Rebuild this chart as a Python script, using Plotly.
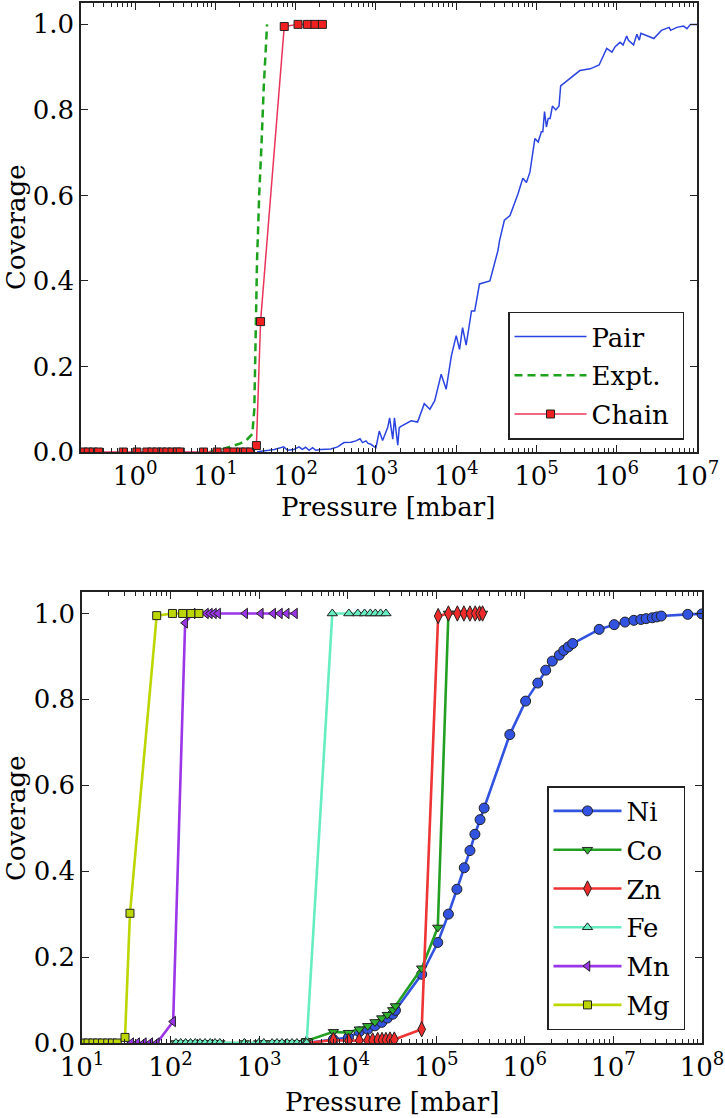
import plotly.graph_objects as go

# ---------------- Top panel data ----------------
pair_p = [33, 37, 46, 54, 71, 79, 95, 110, 121, 133, 147, 162, 178, 205, 274, 333, 400, 490,
          562, 634, 681, 750, 798, 866, 955, 1000, 1100, 1210, 1400, 1480, 1620, 1700, 1870,
          1950, 2050, 2740, 3300, 4000, 4700, 5400, 6500, 7500, 8700, 10000, 11000, 12000,
          13300, 15500, 17000, 19500, 26300, 33100, 34700, 39800, 46800, 58900, 67600, 75000,
          83000, 95500, 105000, 115000, 120000, 126000, 133000, 140000, 148000, 158000, 174000,
          191000, 200000, 251000, 347000, 467000, 603000, 750000, 871000, 955000, 1.1e6, 1.2e6,
          1.33e6, 1.4e6, 1.62e6, 1.78e6, 1.91e6, 2.0e6, 2.9e6, 3.6e6, 4.5e6, 4.7e6, 5.6e6,
          6.8e6, 7.5e6, 8.3e6, 1.0e7]
pair_cov = [0.0, 0.002, 0.004, 0.006, 0.012, 0.004, 0.006, 0.012, 0.006, 0.011, 0.004, 0.010,
            0.004, 0.006, 0.007, 0.012, 0.022, 0.023, 0.026, 0.031, 0.022, 0.026, 0.020, 0.018,
            0.012, 0.010, 0.049, 0.027, 0.057, 0.080, 0.030, 0.080, 0.016, 0.057, 0.060, 0.073,
            0.070, 0.113, 0.100, 0.120, 0.182, 0.147, 0.225, 0.272, 0.240, 0.291, 0.250, 0.330,
            0.330, 0.393, 0.400, 0.471, 0.495, 0.542, 0.553, 0.604, 0.640, 0.630, 0.655, 0.733,
            0.725, 0.749, 0.749, 0.796, 0.760, 0.780, 0.780, 0.809, 0.800, 0.809, 0.856, 0.870,
            0.892, 0.896, 0.905, 0.944, 0.935, 0.948, 0.958, 0.952, 0.973, 0.963, 0.952, 0.977,
            0.963, 0.979, 0.967, 0.986, 0.993, 0.986, 0.993, 0.996, 0.990, 1.0, 1.0]

expt_p = [8.5, 9.6, 12, 14, 17, 20.5, 25, 28.8, 30.5, 31.6, 33, 34, 35, 37.5, 40, 44]
expt_cov = [0.0, 0.003, 0.006, 0.01, 0.015, 0.02, 0.03, 0.042, 0.1, 0.3, 0.45, 0.52, 0.596,
            0.72, 0.854, 1.0]

chain_p = [0.226, 0.26, 0.30, 0.35, 0.71, 1.05, 1.4, 1.62, 1.87, 2.15, 2.49, 2.88, 3.33, 3.65,
           7.1, 10.5, 14, 17, 20.5, 23.7, 27.4, 32.4, 36.5, 72, 107, 140, 174, 215]
chain_cov = [0.0] * 21 + [0.015, 0.305, 0.995, 1.0, 1.0, 1.0, 1.0]

# ---------------- Bottom panel data ----------------
ni_p = [3440, 6890, 10200, 13500, 16800, 20300, 24200, 28000, 32200, 34600, 68400, 104000,
        137000, 171000, 207000, 240000, 273000, 312000, 347000, 676000, 1.02e6, 1.40e6, 1.72e6,
        2.04e6, 2.45e6, 2.75e6, 3.09e6, 3.47e6, 6.9e6, 1.02e7, 1.35e7, 1.70e7, 2.04e7, 2.34e7,
        2.75e7, 3.09e7, 3.47e7, 6.9e7, 1.0e8]
ni_cov = [0.0, 0.008, 0.013, 0.026, 0.032, 0.040, 0.048, 0.058, 0.067, 0.076, 0.160, 0.234,
          0.300, 0.358, 0.408, 0.448, 0.486, 0.520, 0.547, 0.718, 0.796, 0.838, 0.868, 0.889,
          0.903, 0.914, 0.922, 0.930, 0.963, 0.974, 0.980, 0.984, 0.986, 0.988, 0.990, 0.992,
          0.994, 0.998, 0.999]

zero_p = [115, 130, 148, 168, 190, 215, 245, 280, 318, 360, 680, 990, 1130, 1400, 1590, 1810,
          2070, 2350, 2670, 3050, 3330]

co_p = zero_p + [3440, 6890, 10200, 13500, 16800, 20300, 24200, 28000, 32200, 34600, 68400,
                 104000, 137000, 173000, 205000, 240000, 275000, 308000, 333000]
co_cov = [0.0] * 21 + [0.005, 0.026, 0.024, 0.032, 0.040, 0.049, 0.058, 0.066, 0.077, 0.086,
                       0.174, 0.269, 1.0, 1.0, 1.0, 1.0, 1.0, 1.0, 1.0]

zn_p = [3440, 6890, 10200, 13500, 16800, 19100, 21800, 24400, 27000, 30000, 33600, 68400,
        105000, 137000, 173000, 205000, 240000, 275000, 308000, 333000]
zn_cov = [0.0, 0.007, 0.005, 0.006, 0.006, 0.006, 0.007, 0.007, 0.007, 0.008, 0.008, 0.032,
          0.994, 1.0, 1.0, 1.0, 1.0, 1.0, 1.0, 1.0]

fe_p = zero_p + [3440, 6700, 10300, 13000, 15500, 18000, 20500, 23500, 27000]
fe_cov = [0.0] * 22 + [1.0] * 8

mn_p = [36, 42, 50, 59, 70, 107, 146, 178, 251, 278, 309, 344, 696, 1045, 1440, 1718, 2050, 2540]
mn_cov = [0.0, 0.0, 0.0, 0.0, 0.0, 0.05, 0.978, 1.0, 1.0, 1.0, 1.0, 1.0, 1.0, 1.0, 1.0, 1.0,
          1.0, 1.0]

mg_p = [10.3, 11.7, 13.3, 15, 17, 19.5, 22, 25, 30.6, 34.8, 69.7, 105, 137, 170, 209]
mg_cov = [0.0, 0.0, 0.0, 0.0, 0.0, 0.0, 0.0, 0.0, 0.013, 0.302, 0.995, 1.0, 1.0, 1.0, 1.0]

top_tick_exp = [0, 1, 2, 3, 4, 5, 6, 7]
bot_tick_exp = [1, 2, 3, 4, 5, 6, 7, 8]
y_ticks = [0.0, 0.2, 0.4, 0.6, 0.8, 1.0]

for a, b in [(pair_p, pair_cov), (expt_p, expt_cov), (chain_p, chain_cov), (ni_p, ni_cov),
             (co_p, co_cov), (zn_p, zn_cov), (fe_p, fe_cov), (mn_p, mn_cov), (mg_p, mg_cov)]:
    assert len(a) == len(b), (len(a), len(b))

FONT = "DejaVu Serif, Liberation Serif, Noto Serif, serif"
FS = 26
W, H = 725, 1118
PAD = "\u00a0"

fig = go.Figure()

# top traces
fig.add_trace(go.Scatter(x=pair_p, y=pair_cov, mode="lines", name="Pair" + PAD,
                         line=dict(color="#2b44e0", width=1.5),
                         xaxis="x", yaxis="y", legend="legend", legendgroup="a"))
fig.add_trace(go.Scatter(x=expt_p, y=expt_cov, mode="lines", name="Expt." + PAD,
                         line=dict(color="#1ca21c", width=2.5, dash="8px,5px"),
                         xaxis="x", yaxis="y", legend="legend", legendgroup="b"))
fig.add_trace(go.Scatter(x=chain_p, y=chain_cov, mode="lines+markers", name="Chain" + PAD,
                         line=dict(color="#e8345a", width=1.5),
                         marker=dict(symbol="square", size=8, color="#f02020",
                                     line=dict(color="#222", width=1)),
                         xaxis="x", yaxis="y", legend="legend", legendgroup="c"))

# bottom traces
series = [
    ("Ni", ni_p, ni_cov, "#3153e0", "#3153e0", "circle", 10),
    ("Co", co_p, co_cov, "#23a023", "#2fb02f", "triangle-down", 9),
    ("Zn", zn_p, zn_cov, "#ee3434", "#ee2a2a", "diamond-tall", 11),
    ("Fe", fe_p, fe_cov, "#66eec0", "#66eec0", "triangle-up", 9),
    ("Mn", mn_p, mn_cov, "#9a35e8", "#9a35e8", "triangle-left", 9),
    ("Mg", mg_p, mg_cov, "#bcd600", "#bcd600", "square", 8),
]
for i, (nm, xp, yc, lc, mc, sym, ms) in enumerate(series):
    fig.add_trace(go.Scatter(x=xp, y=yc, mode="lines+markers", name=nm + PAD,
                             line=dict(color=lc, width=2.6),
                             marker=dict(symbol=sym, size=ms, color=mc,
                                         line=dict(color="#222", width=1)),
                             xaxis="x2", yaxis="y2", legend="legend2",
                             legendgroup="g%d" % i))

axis_common = dict(showgrid=False, zeroline=False, showline=True, linecolor="#222",
                   linewidth=1.6, mirror="allticks", ticks="inside", tickcolor="#222",
                   tickwidth=1.2, ticklen=7, automargin=False,
                   tickfont=dict(family=FONT, size=FS, color="black"))

minor_top = [m * 10 ** e for e in range(-1, 7) for m in range(2, 10)]
minor_bot = [m * 10 ** e for e in range(1, 8) for m in range(2, 10)]

title_font = dict(family=FONT, size=FS, color="black")

fig.update_layout(
    template="none",
    width=W, height=H, paper_bgcolor="white", plot_bgcolor="white",
    margin=dict(l=0, r=0, t=0, b=0, autoexpand=False), showlegend=True,
    font=dict(family=FONT, size=FS, color="black"),
    xaxis=dict(axis_common, type="log", domain=[81 / W, 697 / W], range=[-0.675, 7],
               tickvals=[10 ** e for e in top_tick_exp],
               ticktext=["10<sup>%d</sup>" % e for e in top_tick_exp],
               minor=dict(ticks="inside", ticklen=4, tickcolor="#222", tickwidth=1,
                          tickmode="array", tickvals=minor_top, showgrid=False),
               anchor="y"),
    yaxis=dict(axis_common, domain=[1 - 452 / H, 1 - 3 / H], range=[0, 1.05],
               tickvals=y_ticks, tickformat=".1f", anchor="x"),
    xaxis2=dict(axis_common, type="log", domain=[82 / W, 702 / W], range=[1, 8],
                tickvals=[10 ** e for e in bot_tick_exp],
                ticktext=["10<sup>%d</sup>" % e for e in bot_tick_exp],
                minor=dict(ticks="inside", ticklen=4, tickcolor="#222", tickwidth=1,
                           tickmode="array", tickvals=minor_bot, showgrid=False),
                anchor="y2"),
    yaxis2=dict(axis_common, domain=[1 - 1043 / H, 1 - 592 / H], range=[0, 1.05],
                tickvals=y_ticks, tickformat=".1f", anchor="x2"),
    legend=dict(x=508 / W, y=1 - 375.5 / H, xanchor="left", yanchor="middle",
                bgcolor="white", bordercolor="#222", borderwidth=1.5,
                font=dict(family=FONT, size=FS, color="black"),
                itemwidth=72, tracegroupgap=2, traceorder="grouped"),
    legend2=dict(x=547 / W, y=1 - 908 / H, xanchor="left", yanchor="middle",
                 bgcolor="white", bordercolor="#222", borderwidth=1.5,
                 font=dict(family=FONT, size=FS, color="black"),
                 itemwidth=68, tracegroupgap=2, traceorder="grouped"),
    annotations=[
        dict(text="Coverage", x=16 / W, y=1 - 227 / H, xref="paper", yref="paper",
             xanchor="center", yanchor="middle",
             textangle=-90, showarrow=False, font=title_font),
        dict(text="Coverage", x=16 / W, y=1 - 818 / H, xref="paper", yref="paper",
             xanchor="center", yanchor="middle",
             textangle=-90, showarrow=False, font=title_font),
        dict(text="Pressure [mbar]", x=388 / W, y=1 - 507 / H, xref="paper", yref="paper",
             xanchor="center", yanchor="middle", showarrow=False, font=title_font),
        dict(text="Pressure [mbar]", x=392 / W, y=1 - 1102 / H, xref="paper", yref="paper",
             xanchor="center", yanchor="middle", showarrow=False, font=title_font),
    ],
)

fig.write_html("out.html", config={"displayModeBar": False},
               post_script="document.body.style.margin='0px';"
                           "document.body.style.overflow='hidden';")
